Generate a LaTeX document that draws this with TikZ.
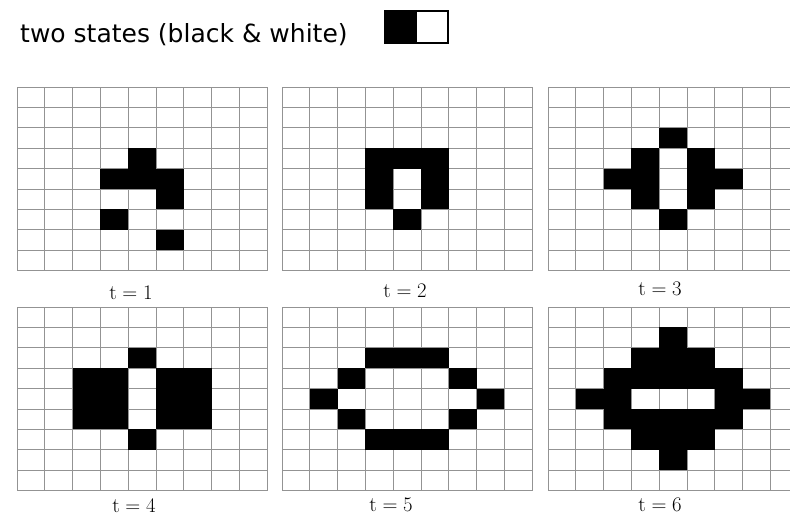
\documentclass[tikz,border=0pt]{standalone}
\usepackage{fontspec}
\newfontfamily\titlefont{DejaVu Sans}
\usetikzlibrary{positioning}

\begin{document}
\begin{tikzpicture}[x=1pt,y=-1pt]
  \tikzset{
    gridline/.style={draw=gray!85,line width=0.9pt},
    alive/.style={fill=black},
    steplabel/.style={font=\fontsize{21}{25}\selectfont,inner sep=0pt},
  }
  \useasboundingbox (0,0) rectangle (790,517);

  % heading and the two-state key
  \node[anchor=base west,inner sep=0pt,
        font=\titlefont\fontsize{25}{29}\selectfont] (title) at (20,42)
        {two states (black \& white)};
  \coordinate (keya) at (385,11);
  \coordinate (keyb) at (417,43);
  \coordinate (keyc) at (448,43);
  \fill[alive] (keya) rectangle (keyb);
  \draw[line width=1.3pt] (keya) rectangle (keyc);

  % one 9x9 board per time step (rows counted downwards)
  \foreach \ox/\oy/\lx/\ly/\cells [count=\t] in {
      17/87/131/293/{4/3,3/4,4/4,5/4,5/5,3/6,5/7},
      282/87/405/291/{3/3,4/3,5/3,3/4,5/4,3/5,5/5,4/6},
      548/87/660/289/{4/2,3/3,5/3,2/4,3/4,5/4,6/4,3/5,5/5,4/6},
      17/307/134/506/{4/2,2/3,3/3,5/3,6/3,2/4,3/4,5/4,6/4,2/5,3/5,5/5,6/5,4/6},
      282/307/391/505/{3/2,4/2,5/2,2/3,6/3,1/4,7/4,2/5,6/5,3/6,4/6,5/6},
      548/307/660/505/{4/1,3/2,4/2,5/2,2/3,3/3,4/3,5/3,6/3,1/4,2/4,6/4,7/4,
                       2/5,3/5,4/5,5/5,6/5,3/6,4/6,5/6,4/7}} {
    \begin{scope}[shift={(\ox,\oy)},x=27.8pt,y=20.4pt]
      \draw[gridline,step=1] (0,-9) grid (9,0);
      \foreach \c/\r in \cells
        \fill[alive] (\c,-\r) rectangle ++(1,-1);
    \end{scope}
    \node[steplabel] (t\t) at (\lx,\ly) {$\mathrm{t} = \t$};
  }
\end{tikzpicture}
\end{document}
